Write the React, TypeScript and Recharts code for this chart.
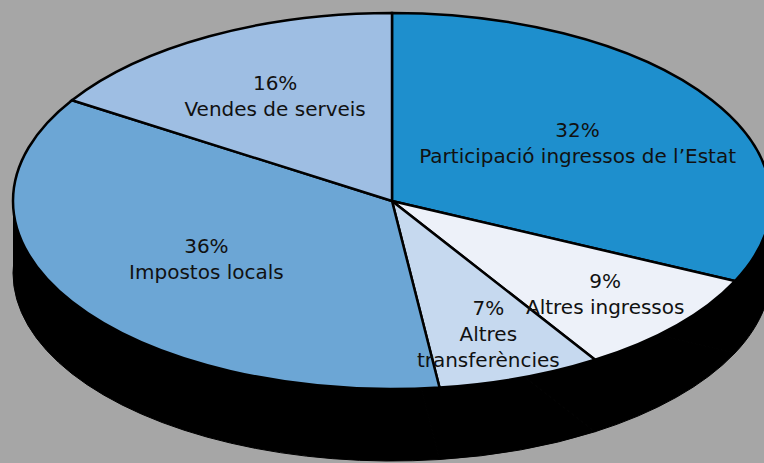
import React from "react";
import { PieChart, Pie, Cell } from "recharts";

// Revenue breakdown (share of total, %)
const CATEGORIES = [
  "Participació ingressos de l’Estat",
  "Altres ingressos",
  "Altres\ntransferències",
  "Impostos locals",
  "Vendes de serveis",
];
const VALUES = [32, 9, 7, 36, 16];
const COLORS = ["#1E8FCD", "#EDF1F9", "#C6D9EF", "#6CA6D5", "#9EBEE3"];

const data = CATEGORIES.map((name, i) => ({ name, value: VALUES[i] }));

const W = 764;
const H = 463;
const CX = 392;
const CY = 201;
const RX = 379; // horizontal radius of the top face
const RY = 188; // vertical radius of the top face
const DEPTH = 72; // height of the black side
const TILT = RY / RX;

const FONT = "'DejaVu Sans', sans-serif";

const css = `
.pie3d-top .recharts-pie-sector { transform-origin: ${CX}px ${CY}px; transform: scaleY(${TILT}); }
.pie3d-side .recharts-pie-sector { transform-origin: ${CX}px ${CY + DEPTH}px; transform: scaleY(${TILT}); }
.pie3d path { vector-effect: non-scaling-stroke; }
`;

// eslint-disable-next-line @typescript-eslint/no-explicit-any
const renderLabel = (p: any) => {
  const RAD = Math.PI / 180;
  // smaller slices get their label pushed further out
  const f = p.percent < 0.1 ? 0.75 : p.percent < 0.2 ? 0.64 : 0.58;
  const x = p.cx + p.outerRadius * f * Math.cos(-p.midAngle * RAD);
  const y = p.cy + p.outerRadius * f * TILT * Math.sin(-p.midAngle * RAD);
  const lines = [`${Math.round(p.percent * 100)}%`, ...String(p.name).split("\n")];
  return (
    <text
      key={`lbl-${p.index}`}
      x={x}
      y={y}
      textAnchor="middle"
      fill="#111"
      fontSize={20}
      fontFamily={FONT}
    >
      {lines.map((l, i) => (
        <tspan
          key={i}
          x={x}
          y={y + (i - (lines.length - 1) / 2) * 26}
          dominantBaseline="central"
        >
          {l}
        </tspan>
      ))}
    </text>
  );
};

export default function App() {
  return (
    <div
      className="pie3d"
      style={{ position: "fixed", left: 0, top: 0, width: W, height: H, background: "#A6A6A6", overflow: "hidden" }}
    >
      <style>{css}</style>
      {/* black side of the disc */}
      <div style={{ position: "absolute", left: 0, top: 0 }}>
        <PieChart width={W} height={H} margin={{ top: 0, right: 0, bottom: 0, left: 0 }}>
          <rect x={CX - RX} y={CY} width={RX * 2} height={DEPTH} fill="#000" />
          <Pie
            className="pie3d-side"
            data={data}
            dataKey="value"
            cx={CX}
            cy={CY + DEPTH}
            outerRadius={RX}
            startAngle={90}
            endAngle={-270}
            fill="#000"
            stroke="#000"
            isAnimationActive={false}
          />
        </PieChart>
      </div>
      {/* coloured top face */}
      <div style={{ position: "absolute", left: 0, top: 0 }}>
        <PieChart width={W} height={H} margin={{ top: 0, right: 0, bottom: 0, left: 0 }}>
          <Pie
            className="pie3d-top"
            data={data}
            dataKey="value"
            cx={CX}
            cy={CY}
            outerRadius={RX}
            startAngle={90}
            endAngle={-270}
            stroke="#000"
            strokeWidth={2.5}
            label={renderLabel}
            labelLine={false}
            isAnimationActive={false}
          >
            {data.map((d, i) => (
              <Cell key={d.name} fill={COLORS[i]} />
            ))}
          </Pie>
        </PieChart>
      </div>
    </div>
  );
}
